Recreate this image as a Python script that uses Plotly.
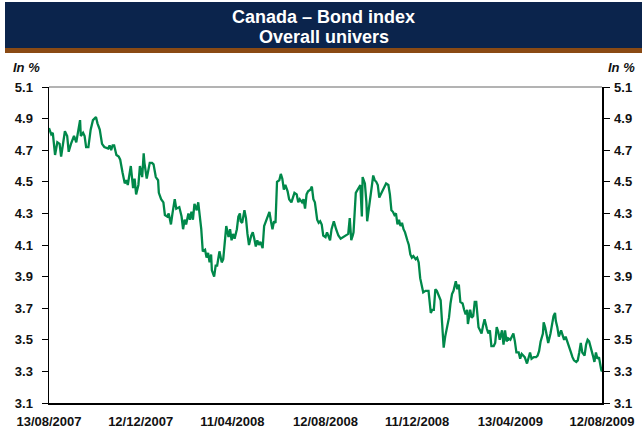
import plotly.graph_objects as go
import pandas as pd

# ---------------- data ----------------
dates = [
    # 2007
    "2007-08-13", "2007-08-16", "2007-08-18", "2007-08-21", "2007-08-24", "2007-08-27", "2007-08-29", "2007-08-31",
    "2007-09-03", "2007-09-06", "2007-09-08", "2007-09-11", "2007-09-15", "2007-09-18", "2007-09-20", "2007-09-23", "2007-09-24", "2007-09-27", "2007-09-29",
    "2007-10-01", "2007-10-04", "2007-10-07", "2007-10-10", "2007-10-12", "2007-10-14", "2007-10-16", "2007-10-19", "2007-10-22", "2007-10-25", "2007-10-30",
    "2007-11-01", "2007-11-03", "2007-11-05", "2007-11-07", "2007-11-10", "2007-11-13", "2007-11-15", "2007-11-18", "2007-11-21", "2007-11-23", "2007-11-25", "2007-11-29",
    "2007-12-02", "2007-12-04", "2007-12-06", "2007-12-09", "2007-12-11", "2007-12-14", "2007-12-16", "2007-12-17", "2007-12-20", "2007-12-24", "2007-12-27", "2007-12-29",
    # 2008
    "2008-01-01", "2008-01-04", "2008-01-05", "2008-01-08", "2008-01-11", "2008-01-13", "2008-01-16", "2008-01-18", "2008-01-21", "2008-01-23", "2008-01-26", "2008-01-28",
    "2008-02-01", "2008-02-04", "2008-02-06", "2008-02-08", "2008-02-10", "2008-02-13", "2008-02-15", "2008-02-17", "2008-02-19", "2008-02-21", "2008-02-24", "2008-02-26", "2008-02-28",
    "2008-03-01", "2008-03-03", "2008-03-06", "2008-03-08", "2008-03-10", "2008-03-12", "2008-03-14", "2008-03-15", "2008-03-18", "2008-03-20", "2008-03-22", "2008-03-25", "2008-03-28", "2008-03-30",
    "2008-04-01", "2008-04-03", "2008-04-06", "2008-04-08", "2008-04-10", "2008-04-12", "2008-04-14", "2008-04-17", "2008-04-19", "2008-04-21", "2008-04-22", "2008-04-24", "2008-04-27", "2008-04-29",
    "2008-05-01", "2008-05-03", "2008-05-06", "2008-05-08", "2008-05-10", "2008-05-12", "2008-05-14", "2008-05-16", "2008-05-18", "2008-05-21", "2008-05-23", "2008-05-25", "2008-05-28", "2008-05-30",
    "2008-06-01", "2008-06-03", "2008-06-05", "2008-06-07", "2008-06-09", "2008-06-12", "2008-06-14", "2008-06-16", "2008-06-18", "2008-06-20", "2008-06-23", "2008-06-25", "2008-06-28",
    "2008-07-02", "2008-07-05", "2008-07-07", "2008-07-09", "2008-07-12", "2008-07-14", "2008-07-16", "2008-07-18", "2008-07-20", "2008-07-23", "2008-07-25", "2008-07-27", "2008-07-29",
    "2008-08-01", "2008-08-03", "2008-08-05", "2008-08-07", "2008-08-09", "2008-08-12", "2008-08-14", "2008-08-16", "2008-08-18", "2008-08-20", "2008-08-23", "2008-08-26", "2008-08-29",
    "2008-09-01", "2008-09-05", "2008-09-09", "2008-09-11", "2008-09-13", "2008-09-15", "2008-09-17", "2008-09-18", "2008-09-21", "2008-09-23", "2008-09-25", "2008-09-27", "2008-09-29", "2008-09-30",
    "2008-10-03", "2008-10-05", "2008-10-06", "2008-10-09", "2008-10-11", "2008-10-14", "2008-10-16", "2008-10-18", "2008-10-20", "2008-10-22", "2008-10-25", "2008-10-27", "2008-10-29", "2008-10-31",
    "2008-11-03", "2008-11-05", "2008-11-07", "2008-11-09", "2008-11-11", "2008-11-13", "2008-11-15", "2008-11-17", "2008-11-19", "2008-11-21", "2008-11-23", "2008-11-25", "2008-11-28", "2008-11-30",
    "2008-12-02", "2008-12-04", "2008-12-06", "2008-12-09", "2008-12-11", "2008-12-13", "2008-12-15", "2008-12-19", "2008-12-22", "2008-12-26", "2008-12-29", "2008-12-31",
    # 2009
    "2009-01-02", "2009-01-04", "2009-01-06", "2009-01-09", "2009-01-11", "2009-01-13", "2009-01-15", "2009-01-17", "2009-01-20", "2009-01-22", "2009-01-24", "2009-01-26", "2009-01-28", "2009-01-31",
    "2009-02-02", "2009-02-04", "2009-02-06", "2009-02-09", "2009-02-11", "2009-02-13", "2009-02-15", "2009-02-16", "2009-02-19", "2009-02-21", "2009-02-23", "2009-02-25", "2009-02-27",
    "2009-03-02", "2009-03-04", "2009-03-06", "2009-03-08", "2009-03-10", "2009-03-13", "2009-03-15", "2009-03-17", "2009-03-19", "2009-03-22", "2009-03-24", "2009-03-26", "2009-03-28", "2009-03-30",
    "2009-04-02", "2009-04-04", "2009-04-06", "2009-04-08", "2009-04-10", "2009-04-13", "2009-04-15", "2009-04-17", "2009-04-19", "2009-04-21", "2009-04-24", "2009-04-26", "2009-04-28", "2009-04-30",
    "2009-05-02", "2009-05-05", "2009-05-07", "2009-05-09", "2009-05-11", "2009-05-14", "2009-05-17", "2009-05-19", "2009-05-21", "2009-05-23", "2009-05-26", "2009-05-27", "2009-05-29", "2009-05-31",
    "2009-06-02", "2009-06-05", "2009-06-07", "2009-06-09", "2009-06-11", "2009-06-12", "2009-06-14", "2009-06-16", "2009-06-19", "2009-06-21", "2009-06-23", "2009-06-25", "2009-06-28", "2009-06-30",
    "2009-07-02", "2009-07-04", "2009-07-06", "2009-07-09", "2009-07-11", "2009-07-13", "2009-07-15", "2009-07-17", "2009-07-20", "2009-07-22", "2009-07-24", "2009-07-26", "2009-07-28", "2009-07-31",
    "2009-08-02", "2009-08-04", "2009-08-06", "2009-08-08", "2009-08-11", "2009-08-12",
]

yields = [
    # 2007
    4.84, 4.80, 4.81, 4.67, 4.75, 4.74, 4.66, 4.72,
    4.82, 4.79, 4.69, 4.74, 4.79, 4.75, 4.80, 4.89, 4.79, 4.81, 4.79,
    4.72, 4.72, 4.83, 4.89, 4.90, 4.91, 4.87, 4.83, 4.74, 4.72, 4.71,
    4.73, 4.70, 4.73, 4.73, 4.67, 4.66, 4.64, 4.56, 4.49, 4.51, 4.48, 4.60,
    4.46, 4.52, 4.42, 4.48, 4.60, 4.53, 4.68, 4.62, 4.52, 4.62, 4.62, 4.61,
    # 2008
    4.53, 4.51, 4.43, 4.39, 4.37, 4.29, 4.28, 4.30, 4.23, 4.30, 4.39, 4.33,
    4.34, 4.28, 4.20, 4.26, 4.23, 4.30, 4.26, 4.31, 4.26, 4.36, 4.32, 4.37, 4.30,
    4.20, 4.06, 4.07, 4.02, 4.05, 3.99, 4.04, 3.94, 3.90, 3.97, 3.97, 4.06, 3.99, 4.01,
    4.11, 4.22, 4.15, 4.20, 4.13, 4.17, 4.14, 4.20, 4.28, 4.30, 4.25, 4.24, 4.32, 4.27,
    4.17, 4.10, 4.16, 4.18, 4.14, 4.09, 4.13, 4.10, 4.12, 4.08, 4.22, 4.25, 4.28, 4.31,
    4.25, 4.20, 4.25, 4.24, 4.50, 4.51, 4.55, 4.52, 4.45, 4.48, 4.44, 4.39, 4.37,
    4.43, 4.42, 4.37, 4.39, 4.37, 4.39, 4.33, 4.42, 4.44, 4.45, 4.47, 4.39, 4.37,
    4.26, 4.24, 4.25, 4.23, 4.16, 4.15, 4.18, 4.16, 4.13, 4.20, 4.25, 4.20, 4.16,
    4.14, 4.15, 4.16, 4.17, 4.27, 4.13, 4.16, 4.18, 4.43, 4.45, 4.46, 4.48, 4.28, 4.53,
    4.49, 4.37, 4.25, 4.36, 4.42, 4.54, 4.51, 4.50, 4.48, 4.40, 4.43, 4.45, 4.47, 4.49,
    4.48, 4.42, 4.32, 4.31, 4.29, 4.30, 4.23, 4.26, 4.22, 4.24, 4.20, 4.18, 4.13, 4.10,
    4.04, 4.02, 4.03, 4.01, 4.02, 3.99, 3.89, 3.80, 3.81, 3.81, 3.67, 3.69,
    # 2009
    3.69, 3.82, 3.81, 3.77, 3.75, 3.60, 3.45, 3.52, 3.58, 3.64, 3.73, 3.79, 3.81, 3.87,
    3.82, 3.85, 3.74, 3.73, 3.69, 3.66, 3.69, 3.60, 3.69, 3.64, 3.65, 3.74, 3.74,
    3.58, 3.56, 3.54, 3.59, 3.63, 3.57, 3.54, 3.56, 3.46, 3.46, 3.48, 3.58, 3.55, 3.50,
    3.56, 3.47, 3.56, 3.49, 3.51, 3.50, 3.52, 3.54, 3.49, 3.42, 3.42, 3.38, 3.41, 3.40,
    3.39, 3.35, 3.39, 3.42, 3.38, 3.39, 3.39, 3.40, 3.43, 3.49, 3.54, 3.61, 3.58, 3.53,
    3.48, 3.54, 3.60, 3.65, 3.67, 3.62, 3.58, 3.52, 3.56, 3.53, 3.50, 3.52, 3.48, 3.46,
    3.42, 3.39, 3.37, 3.36, 3.37, 3.42, 3.48, 3.42, 3.40, 3.47, 3.50, 3.49, 3.46, 3.40,
    3.36, 3.42, 3.38, 3.39, 3.31, 3.30,
]

tick_labels = ["13/08/2007", "12/12/2007", "11/04/2008", "12/08/2008",
               "11/12/2008", "13/04/2009", "12/08/2009"]
y_min, y_max, y_step = 3.1, 5.1, 0.2

title_lines = ["Canada \u2013 Bond index", "Overall univers"]
unit_label = "In %"

# ---------------- figure ----------------
W, H = 642, 438
L, R, T, B = 49, 40, 87, 35


def px_x(px):
    return (px - L) / (W - L - R)


def px_y(py):
    return (H - B - py) / (H - T - B)


x_dates = pd.to_datetime(dates)
tick_dates = pd.to_datetime(tick_labels, format="%d/%m/%Y")

FONT = "Liberation Sans, Arial, sans-serif"
tick_font = dict(family=FONT, size=13, color="#111111", weight="bold")
GREEN = "#00884A"

fig = go.Figure()
fig.add_trace(go.Scatter(
    x=x_dates, y=yields, mode="lines",
    line=dict(color=GREEN, width=2.3),
    showlegend=False, hoverinfo="skip",
))
# same series on the right-hand axis (transparent) so that axis is drawn
fig.add_trace(go.Scatter(
    x=x_dates, y=yields, mode="lines", yaxis="y2",
    line=dict(color="rgba(0,0,0,0)", width=0),
    showlegend=False, hoverinfo="skip",
))

yax = dict(
    range=[y_min, y_max], tick0=y_min, dtick=y_step, tickformat=".1f",
    ticks="outside", ticklen=6, tickwidth=1, tickcolor="#000000",
    showline=True, linecolor="#000000", linewidth=1.5,
    showgrid=False, zeroline=False, tickfont=tick_font,
    fixedrange=True, automargin=False,
)

fig.update_layout(
    width=W, height=H,
    margin=dict(l=L, r=R, t=T, b=B, autoexpand=False),
    paper_bgcolor="white", plot_bgcolor="white",
    showlegend=False,
    xaxis=dict(
        range=[x_dates[0], x_dates[-1]],
        tickvals=tick_dates, ticktext=tick_labels,
        ticks="", showline=True, linecolor="#000000", linewidth=1.5,
        showgrid=False, zeroline=False, tickfont=tick_font,
        ticklabelstandoff=6, fixedrange=True, automargin=False,
    ),
    yaxis=dict(**yax, ticklabelstandoff=6),
    yaxis2=dict(**yax, overlaying="y", side="right", ticklabelstandoff=2),
)

# title band
fig.add_shape(type="rect", xref="paper", yref="paper",
              x0=px_x(5), x1=px_x(642), y0=px_y(48), y1=px_y(2),
              fillcolor="#0B244C", line=dict(width=0), layer="above")
fig.add_shape(type="rect", xref="paper", yref="paper",
              x0=px_x(5), x1=px_x(642), y0=px_y(53), y1=px_y(48),
              fillcolor="#8A4A14", line=dict(width=0), layer="above")
# top border of plot area
fig.add_shape(type="line", xref="paper", yref="paper",
              x0=0, x1=1, y0=1, y1=1,
              line=dict(color="#9A9A9A", width=1.5))

title_font = dict(family=FONT, size=18, color="white", weight="bold")
for line_text, py in zip(title_lines, [17, 37]):
    fig.add_annotation(text=line_text, xref="paper", yref="paper",
                       x=px_x(323.5), y=px_y(py), xanchor="center", yanchor="middle",
                       showarrow=False, font=title_font)

unit_font = dict(family=FONT, size=13, color="#111111", weight="bold", style="italic")
fig.add_annotation(text=unit_label, xref="paper", yref="paper",
                   x=px_x(11), y=px_y(68), xanchor="left", yanchor="middle",
                   showarrow=False, font=unit_font)
fig.add_annotation(text=unit_label, xref="paper", yref="paper",
                   x=px_x(637), y=px_y(68), xanchor="right", yanchor="middle",
                   showarrow=False, font=unit_font)

fig.write_html(
    "out.html",
    config={"displayModeBar": False, "staticPlot": True},
    post_script="document.body.style.margin='0px';document.body.style.overflow='hidden';",
)
